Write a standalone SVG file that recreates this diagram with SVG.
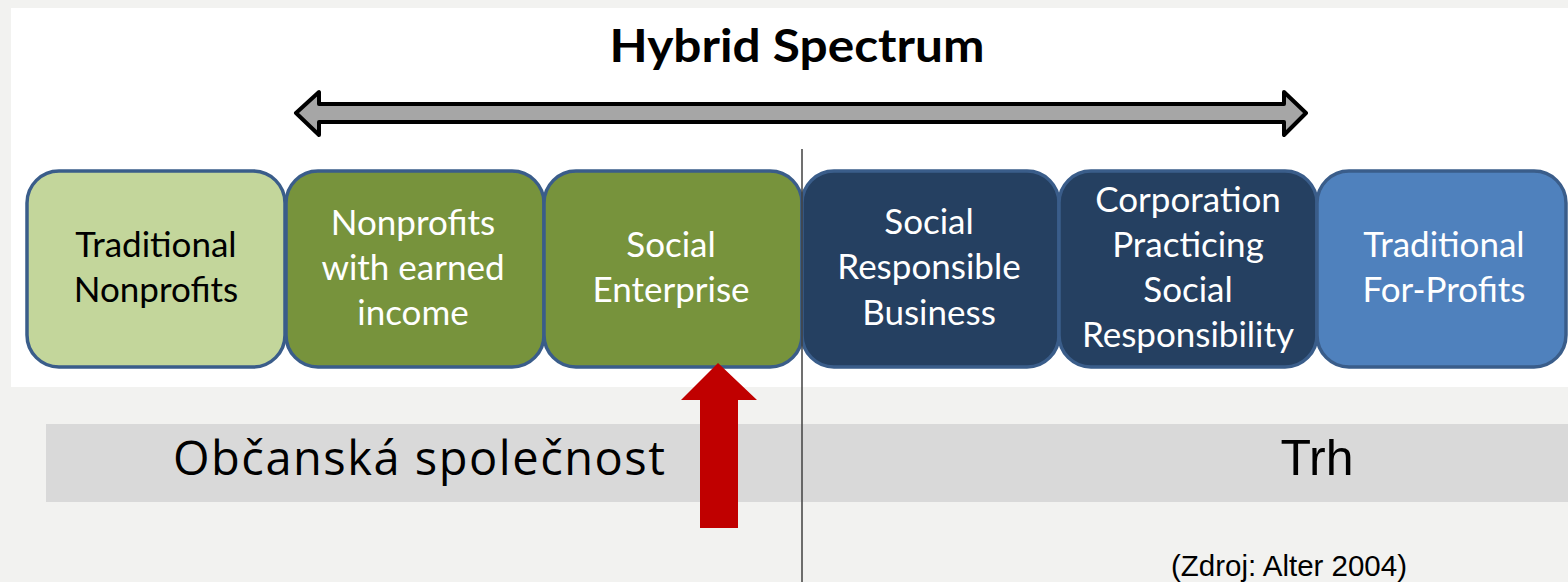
<svg xmlns="http://www.w3.org/2000/svg" width="1568" height="582" viewBox="0 0 1568 582">
<style>
.box{stroke:#3a5d8a;stroke-width:3.5}
.lt{font-family:Lato,"Liberation Sans",sans-serif;font-size:35px;text-anchor:middle}
.w{fill:#ffffff}
.k{fill:#000000}
</style>
<rect x="0" y="0" width="1568" height="582" fill="#f2f2f0"/>
<rect x="11" y="8" width="1557" height="379" fill="#ffffff"/>
<rect x="46" y="424" width="1522" height="78" fill="#d9d9d9"/>
<text x="797" y="62" font-family="Lato,'Liberation Sans',sans-serif" font-weight="bold" font-size="45" text-anchor="middle" textLength="375" lengthAdjust="spacingAndGlyphs">Hybrid Spectrum</text>
<g id="n1"><rect class="box" x="27" y="171" width="258" height="196" rx="32" fill="#c3d69b"/>
<text class="lt k"><tspan x="156" y="257">Traditional</tspan><tspan x="156" y="302">Nonprofits</tspan></text></g>
<g id="n2"><rect class="box" x="286" y="171" width="258" height="196" rx="32" fill="#77933c"/>
<text class="lt w"><tspan x="413" y="235">Nonprofits</tspan><tspan x="413" y="280">with earned</tspan><tspan x="413" y="325">income</tspan></text></g>
<g id="n3"><rect class="box" x="544" y="171" width="258" height="196" rx="32" fill="#77933c"/>
<text class="lt w"><tspan x="671" y="257">Social</tspan><tspan x="671" y="302">Enterprise</tspan></text></g>
<g id="n4"><rect class="box" x="802" y="171" width="257" height="196" rx="32" fill="#254061"/>
<text class="lt w"><tspan x="929" y="234">Social</tspan><tspan x="929" y="279">Responsible</tspan><tspan x="929" y="325">Business</tspan></text></g>
<g id="n5"><rect class="box" x="1059" y="171" width="258" height="196" rx="32" fill="#254061"/>
<text class="lt w"><tspan x="1188" y="212">Corporation</tspan><tspan x="1188" y="257">Practicing</tspan><tspan x="1188" y="302">Social</tspan><tspan x="1188" y="347">Responsibility</tspan></text></g>
<g id="n6"><rect class="box" x="1317" y="171" width="249" height="196" rx="32" fill="#4f81bd"/>
<text class="lt w"><tspan x="1444" y="257">Traditional</tspan><tspan x="1444" y="302">For-Profits</tspan></text></g>
<g id="connectors">
<polygon points="296,113 319,92 319,104 1284,104 1284,92 1306,113 1284,135 1284,122 319,122 319,135" fill="#a6a6a6" stroke="#000000" stroke-width="4" stroke-linejoin="round"/>
<line x1="802" y1="149" x2="802" y2="582" stroke="#404040" stroke-width="1.5"/>
<polygon points="718,363 757,400 738,400 738,528 700,528 700,400 681,400" fill="#c00000"/>
</g>
<g id="labels">
<text x="173" y="475" font-family="'Open Sans','Noto Sans',sans-serif" font-size="47" fill="#000000" textLength="492" lengthAdjust="spacing">Občanská společnost</text>
<text x="1317" y="475" font-family="'Liberation Sans',Arial,sans-serif" font-size="50" fill="#000000" text-anchor="middle">Trh</text>
<text x="1289" y="576" font-family="'Liberation Sans',Arial,sans-serif" font-size="29" fill="#000000" text-anchor="middle" textLength="236" lengthAdjust="spacingAndGlyphs">(Zdroj: Alter 2004)</text>
</g>
</svg>
